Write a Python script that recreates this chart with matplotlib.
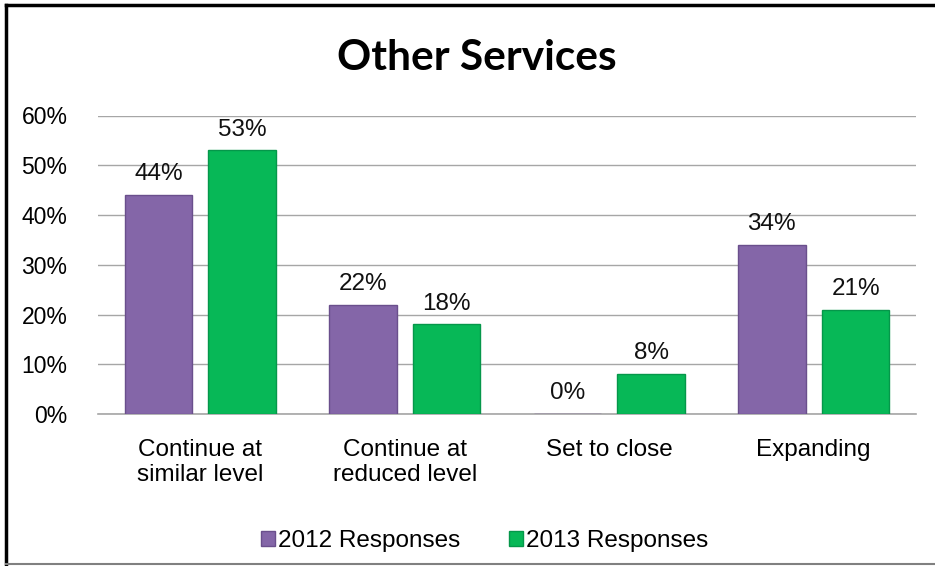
import matplotlib.pyplot as plt
import numpy as np
from matplotlib.lines import Line2D
from matplotlib.ticker import PercentFormatter

plt.rcParams['font.family'] = ['Liberation Sans', 'DejaVu Sans']

categories = ["Continue at\nsimilar level", "Continue at\nreduced level", "Set to close", "Expanding"]
series_names = ["2012 Responses", "2013 Responses"]
resp_2012 = [44, 22, 0, 34]
resp_2013 = [53, 18, 8, 21]
y_ticks = [0, 10, 20, 30, 40, 50, 60]

purple = "#8466A8"
green = "#07B857"

fig = plt.figure(figsize=(9.35, 5.66), dpi=100)
ax = fig.add_axes([98 / 935, 1 - 414 / 566, 818 / 935, 298.5 / 566])

x = np.arange(len(categories))
w = 0.33
off = 0.205
b1 = ax.bar(x - off, resp_2012, w, color=purple, edgecolor="#6A4F8C", linewidth=1,
            label=series_names[0], zorder=3)
b2 = ax.bar(x + off, resp_2013, w, color=green, edgecolor="#05974A", linewidth=1,
            label=series_names[1], zorder=3)

# value labels over each bar
for bars, vals in ((b1, resp_2012), (b2, resp_2013)):
    for bar, v in zip(bars, vals):
        ax.annotate(f"{v}%", (bar.get_x() + bar.get_width() / 2, v),
                    xytext=(0, 7), textcoords="offset points",
                    ha="center", va="bottom", fontsize=17.5, color="#111111")

ax.set_xlim(-0.5, 3.5)
ax.set_ylim(0, 60)
ax.set_yticks(y_ticks)
ax.yaxis.set_major_formatter(PercentFormatter(decimals=0))
ax.set_xticks(x)
ax.set_xticklabels(categories, fontsize=17.5, linespacing=1.2)
ax.tick_params(axis="y", labelsize=16.5, length=0, pad=22)
ax.tick_params(axis="x", length=0, pad=18)
ax.yaxis.grid(True, color="#A6A6A6", linewidth=1)
for side in ("top", "right", "left"):
    ax.spines[side].set_visible(False)
ax.spines["bottom"].set_color("#A6A6A6")
ax.spines["bottom"].set_linewidth(1.2)
ax.set_axisbelow(True)

fig.text(0.510, 1 - 58 / 566, "Other Services", ha="center", va="center",
         fontsize=30.5, fontweight="bold", family=["Lato", "DejaVu Sans"])

ax.legend(loc="center", bbox_to_anchor=(485 / 935, 1 - 541 / 566),
          bbox_transform=fig.transFigure, ncol=2, frameon=False, fontsize=17.5,
          handlelength=0.55, handleheight=0.55, handletextpad=0.15, columnspacing=2.0)

# frame around the chart
W, H = 935, 566
fig.add_artist(Line2D([6 / W, 6 / W], [0, 1 - 5 / H], color="black", linewidth=2.5,
                      transform=fig.transFigure))
fig.add_artist(Line2D([6 / W, 1], [1 - 5 / H, 1 - 5 / H], color="black", linewidth=2.5,
                      transform=fig.transFigure))
fig.add_artist(Line2D([6 / W, 1], [2 / H, 2 / H], color="#808080", linewidth=1.5,
                      transform=fig.transFigure))

fig.savefig("out.png", dpi=100)
